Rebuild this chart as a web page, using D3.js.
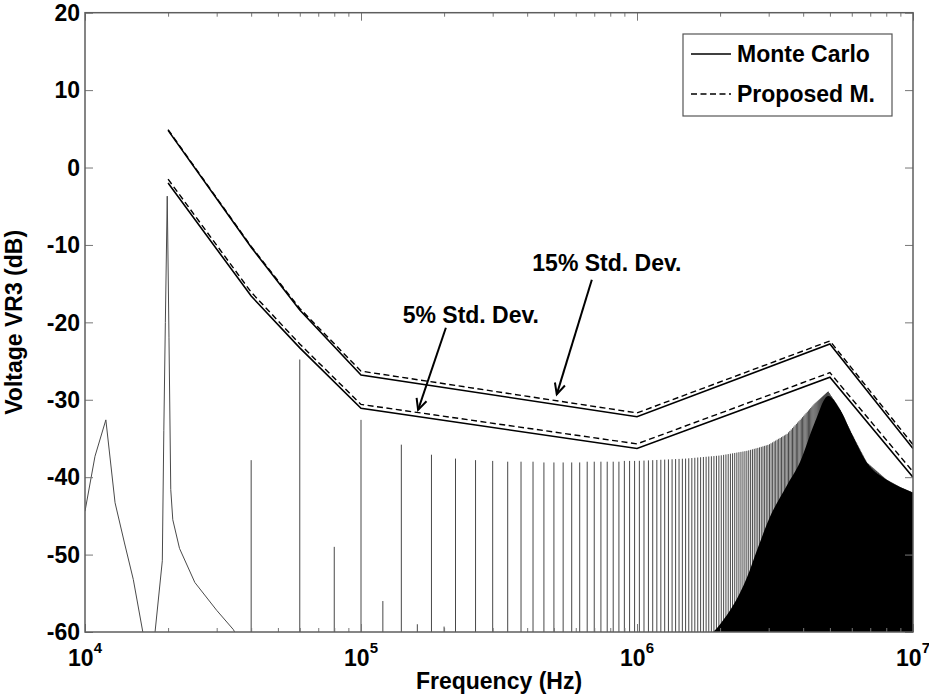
<!DOCTYPE html>
<html><head><meta charset="utf-8">
<script src="https://cdn.jsdelivr.net/npm/d3@7"></script>
<style>
body{margin:0;background:#fff}
svg{display:block}
text{font-family:"Liberation Sans",Arial,sans-serif;font-weight:bold;fill:#000}
</style>
</head><body>
<svg id="chart" width="929" height="696"></svg>
<script>
// ---------------- data ----------------
// low-frequency part of the simulated spectrum (thin grey trace)
const lowTraceFreq = [10000, 10870, 11900, 12850, 13900, 14960, 16200, 16800, 17500, 17940, 19060, 19300, 19550, 19860, 20150, 20450, 20800, 22000, 25000, 30000, 34500, 36000];
const lowTraceDb   = [-44.4, -37.3, -32.6, -43.3, -48.5, -53.2, -60, -66, -66, -60, -50.8, -34, -20, -3.7, -22, -41.6, -45.5, -49.2, -53.6, -57.2, -59.7, -61];

// harmonic spikes (odd multiples of 20 kHz) read individually
const oddHarmFreq = [6e4, 1e5, 1.4e5, 1.8e5, 2.2e5, 2.6e5, 3e5, 3.4e5, 3.8e5, 4.2e5, 4.6e5, 5e5, 5.4e5, 5.8e5, 6.2e5, 6.6e5, 7e5, 7.4e5, 7.8e5, 8.2e5, 8.6e5, 9e5, 9.4e5, 9.8e5];
const oddHarmDb   = [-24.8, -32.6, -35.8, -37.1, -37.6, -37.8, -37.9, -38, -38, -38, -38.1, -38.1, -38.1, -38.1, -38.1, -38, -38, -38, -38, -38, -38, -37.9, -37.9, -37.9];
// even harmonics (small)
const evenHarmFreq = [4e4, 8e4, 1.2e5, 1.6e5, 2e5];
const evenHarmDb   = [-37.8, -49, -56, -59, -59.3];

// dense region (>1 MHz): envelope of spike tops and of the filled floor
const fundamental = 2e4;
const denseEnvFreq = [1e6, 1.5e6, 2e6, 2.5e6, 2.75e6, 3e6, 3.5e6, 3.9e6, 4.4e6, 4.93e6, 5.45e6, 6e6, 6.8e6, 8e6, 9e6, 1e7];
const denseTopDb   = [-37.9, -37.6, -37.2, -36.6, -36.2, -35.8, -34.4, -32.6, -30.5, -28.9, -31.3, -34.4, -38.1, -40.3, -41.3, -42.0];
const denseFloorDb = [-63, -62, -59, -53, -49, -45.5, -41, -38, -33, -29.5, -31.3, -34.4, -38.1, -40.3, -41.3, -42.0];

// bound curves
const curveFreq = [2e4, 4e4, 6e4, 1e5, 1e6, 5e6, 1e7];
const mc15 = [4.8, -10.3, -18.4, -26.8, -32.2, -22.8, -36.3];
const pm15 = [4.9, -10.2, -18.2, -26.3, -31.7, -22.4, -35.8];
const mc5  = [-2.0, -16.6, -23.3, -31.1, -36.3, -27.1, -40.0];
const pm5  = [-1.5, -16.1, -22.8, -30.6, -35.7, -26.5, -39.3];

// axes
const xTickValues = [1e4, 1e5, 1e6, 1e7];
const xTickExp = ["4", "5", "6", "7"];
const yTickValues = [-60, -50, -40, -30, -20, -10, 0, 10, 20];
const xLabel = "Frequency (Hz)";
const yLabel = "Voltage VR3 (dB)";
const legendLabels = ["Monte Carlo", "Proposed M."];

// annotations (data coordinates)
const annLabels = ["15% Std. Dev.", "5% Std. Dev."];
const annTextPos = [[7.78e5, -12.3], [2.5e5, -19.0]];
const annFrom = [[6.86e5, -14.5], [2.03e5, -20.7]];
const annTo   = [[5.12e5, -29.3], [1.61e5, -31.3]];

// ---------------- layout ----------------
const L = 85, R = 913, T = 12.7, B = 632;
const svg = d3.select("#chart");
const x = d3.scaleLog().domain([1e4, 1e7]).range([L, R]);
const y = d3.scaleLinear().domain([-60, 20]).range([B, T]);

svg.append("defs").append("clipPath").attr("id", "plotclip")
  .append("rect").attr("x", L).attr("y", T).attr("width", R - L).attr("height", B - T);

const plot = svg.append("g").attr("clip-path", "url(#plotclip)");

// ---- spectrum ----
const lowTrace = lowTraceFreq.map((f, i) => ({f, v: lowTraceDb[i]}));
plot.append("path").datum(lowTrace)
  .attr("fill", "none").attr("stroke", "#4a4a4a").attr("stroke-width", 1)
  .attr("d", d3.line().x(d => x(d.f)).y(d => y(d.v)));

const topEnv = d3.scaleLog().domain(denseEnvFreq).range(denseTopDb);
const oddSpikes = oddHarmFreq.map((f, i) => ({f, v: oddHarmDb[i]}));
const denseSpikes = d3.range(25, 250).map(k => (2 * k + 1) * fundamental).map(f => ({f, v: topEnv(f)}));
const spikes = evenHarmFreq.map((f, i) => ({f, v: evenHarmDb[i]})).concat(oddSpikes, denseSpikes);

plot.append("g").selectAll("line").data(spikes).join("line")
  .attr("x1", d => x(d.f)).attr("x2", d => x(d.f))
  .attr("y1", y(-61)).attr("y2", d => y(d.v))
  .attr("stroke", "#333").attr("stroke-width", 0.9);

const floorData = denseEnvFreq.map((f, i) => ({f, v: denseFloorDb[i]}));
plot.append("path").datum(floorData)
  .attr("fill", "#000")
  .attr("d", d3.area().curve(d3.curveMonotoneX).x(d => x(d.f)).y0(y(-61)).y1(d => y(d.v)));

// ---- bound curves ----
const line = d3.line().x(d => x(d.f)).y(d => y(d.v));
const mk = arr => curveFreq.map((f, i) => ({f, v: arr[i]}));
[[mc15, null, 1.6], [mc5, null, 1.6], [pm15, "6,3.5", 1.4], [pm5, "6,3.5", 1.4]].forEach(([arr, dash, w]) => {
  plot.append("path").datum(mk(arr))
    .attr("fill", "none").attr("stroke", "#000").attr("stroke-width", w)
    .attr("stroke-dasharray", dash)
    .attr("d", line);
});

// ---- axes ----
const tickColor = "#777";
const minorX = x.ticks().filter(v => !xTickValues.includes(v));
function styleAxis(g) { g.select(".domain").remove(); g.selectAll("line").attr("stroke", tickColor).attr("stroke-width", 1); }

svg.append("g").attr("transform", `translate(0,${B})`).call(d3.axisBottom(x).tickValues(xTickValues).tickSize(-8).tickFormat("")).call(styleAxis);
svg.append("g").attr("transform", `translate(0,${B})`).call(d3.axisBottom(x).tickValues(minorX).tickSize(-4).tickFormat("")).call(styleAxis);
svg.append("g").attr("transform", `translate(0,${T})`).call(d3.axisTop(x).tickValues(xTickValues).tickSize(-8).tickFormat("")).call(styleAxis);
svg.append("g").attr("transform", `translate(0,${T})`).call(d3.axisTop(x).tickValues(minorX).tickSize(-4).tickFormat("")).call(styleAxis);
svg.append("g").attr("transform", `translate(${L},0)`).call(d3.axisLeft(y).tickValues(yTickValues).tickSize(-8).tickFormat("")).call(styleAxis);
svg.append("g").attr("transform", `translate(${R},0)`).call(d3.axisRight(y).tickValues(yTickValues).tickSize(-8).tickFormat("")).call(styleAxis);

svg.append("rect").attr("x", L).attr("y", T).attr("width", R - L).attr("height", B - T)
  .attr("fill", "none").attr("stroke", "#5e5e5e").attr("stroke-width", 1.5);

// y tick labels
svg.append("g").selectAll("text").data(yTickValues).join("text")
  .attr("x", L - 5).attr("y", d => y(d)).attr("dy", "0.36em")
  .attr("text-anchor", "end").attr("font-size", 23).text(d => d);

// x tick labels 10^n
const xl = svg.append("g").selectAll("text").data(xTickValues).join("text")
  .attr("x", d => x(d)).attr("y", B + 34).attr("text-anchor", "middle").attr("font-size", 23);
xl.append("tspan").text("10");
xl.append("tspan").attr("font-size", 15).attr("dy", -13).text((d, i) => xTickExp[i]);

// axis titles
svg.append("text").attr("x", (L + R) / 2).attr("y", B + 57).attr("text-anchor", "middle")
  .attr("font-size", 23).text(xLabel);
svg.append("text").attr("transform", `translate(22,${(T + B) / 2}) rotate(-90)`)
  .attr("text-anchor", "middle").attr("font-size", 23).text(yLabel);

// ---- annotations ----
annLabels.forEach((lab, i) => {
  svg.append("text").attr("x", x(annTextPos[i][0])).attr("y", y(annTextPos[i][1])).attr("dy", "0.36em")
    .attr("text-anchor", "middle").attr("font-size", 23).text(lab);
  const x1 = x(annFrom[i][0]), y1 = y(annFrom[i][1]), x2 = x(annTo[i][0]), y2 = y(annTo[i][1]);
  svg.append("line").attr("x1", x1).attr("y1", y1).attr("x2", x2).attr("y2", y2)
    .attr("stroke", "#000").attr("stroke-width", 2);
  const ang = Math.atan2(y1 - y2, x1 - x2), len = 12, spread = 0.45;
  const head = [[x2 + len * Math.cos(ang + spread), y2 + len * Math.sin(ang + spread)], [x2, y2],
                [x2 + len * Math.cos(ang - spread), y2 + len * Math.sin(ang - spread)]];
  svg.append("path").attr("d", d3.line()(head)).attr("fill", "none").attr("stroke", "#000").attr("stroke-width", 2);
});

// ---- legend ----
const lg = svg.append("g");
const lgX = 683, lgY = 34, lgW = 209, lgH = 82;
lg.append("rect").attr("x", lgX).attr("y", lgY).attr("width", lgW).attr("height", lgH)
  .attr("fill", "#fff").attr("stroke", "#555").attr("stroke-width", 1.2);
legendLabels.forEach((lab, i) => {
  const cy = lgY + 20 + i * 40;
  lg.append("line").attr("x1", lgX + 8).attr("x2", lgX + 48).attr("y1", cy).attr("y2", cy)
    .attr("stroke", "#000").attr("stroke-width", 1.4).attr("stroke-dasharray", i === 0 ? null : "6,3.5");
  lg.append("text").attr("x", lgX + 54).attr("y", cy).attr("dy", "0.36em").attr("font-size", 23).text(lab);
});
</script>
</body></html>
